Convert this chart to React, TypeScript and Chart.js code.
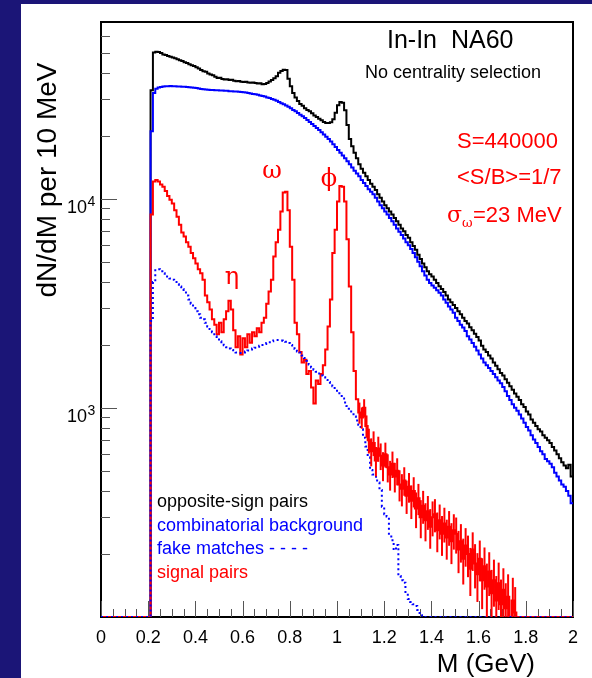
import React, { useEffect, useRef } from "react";
import { Chart, registerables } from "chart.js";

Chart.register(...registerables);

// Histogram binning: 10 MeV bins, stored from the 0.20 GeV low edge up to 2.00 GeV
const BIN_START = 0.2;
const BIN_WIDTH = 0.01;
const M_MIN = 0;
const M_MAX = 2;
const Y_MIN = 100;
const Y_MAX = 70000;

// opposite-sign pairs (counts per 10 MeV), rows of ten bins: 0.20, 0.30, ... 1.90
const oppositeSign = [
  0, 33000, 50000, 50500, 50300, 49800, 49000, 48700, 48200, 47700,
  47400, 47000, 46500, 46000, 45600, 45000, 44600, 44000, 43500, 43100,
  42500, 42000, 41300, 40700, 40500, 39700, 39300, 39000, 38300, 37800,
  37900, 37400, 37200, 37300, 37000, 37100, 36700, 36500, 36600, 36300,
  36200, 36300, 36000, 35900, 36000, 35800, 35600, 35700, 35300, 35400,
  35800, 36400, 37000, 37700, 38500, 40000, 40800, 41400, 41300, 37500,
  34500, 32000, 30500, 29300, 28400, 27800, 27100, 26600, 26200, 25600,
  25000, 24600, 24100, 23700, 23300, 23000, 23000, 23200, 24000, 25800,
  28000, 29000, 28800, 26500, 22500, 19300, 17800, 16600, 15600, 14600,
  13900, 13300, 12800, 12300, 11800, 11400, 11000, 10500, 10100, 9700,
  9300, 9000, 8700, 8400, 8100, 7800, 7500, 7200, 7000, 6700,
  6500, 6200, 5950, 5700, 5400, 5150, 4900, 4700, 4500, 4350,
  4250, 4100, 3950, 3820, 3700, 3580, 3450, 3300, 3200, 3100,
  3000, 2900, 2800, 2700, 2600, 2530, 2430, 2350, 2260, 2180,
  2100, 1980, 1900, 1850, 1780, 1720, 1650, 1590, 1530, 1470,
  1430, 1370, 1320, 1270, 1220, 1170, 1130, 1090, 1040, 1010,
  960, 930, 880, 850, 820, 790, 770, 740, 720, 700,
  680, 650, 625, 600, 575, 550, 530, 515, 535, 470,
];

// combinatorial background
const combBackground = [
  0, 21000, 32000, 33600, 34000, 34200, 34400, 34500, 34500, 34600,
  34500, 34500, 34400, 34400, 34300, 34300, 34200, 34100, 34000, 33900,
  33800, 33700, 33500, 33400, 33300, 33200, 33100, 33100, 33000, 33000,
  32900, 32900, 32800, 32800, 32700, 32700, 32600, 32600, 32500, 32400,
  32300, 32200, 32000, 31900, 31700, 31600, 31400, 31200, 31000, 30800,
  30500, 30300, 30000, 29700, 29400, 29000, 28600, 28300, 27900, 27500,
  27100, 26600, 26200, 25700, 25200, 24800, 24300, 23800, 23300, 22800,
  22300, 21800, 21300, 20800, 20300, 19800, 19300, 18800, 18200, 17700,
  17100, 16600, 16100, 15600, 15100, 14600, 14100, 13600, 13200, 12800,
  12300, 11900, 11500, 11100, 10800, 10500, 10100, 9700, 9300, 9000,
  8700, 8400, 8100, 7800, 7500, 7200, 6950, 6700, 6450, 6200,
  6000, 5750, 5500, 5250, 5000, 4750, 4500, 4300, 4100, 3950,
  3850, 3750, 3650, 3550, 3450, 3300, 3180, 3050, 2950, 2850,
  2700, 2600, 2500, 2420, 2330, 2200, 2120, 2040, 1960, 1880,
  1800, 1720, 1650, 1600, 1550, 1500, 1450, 1400, 1350, 1310,
  1260, 1200, 1140, 1090, 1040, 1000, 970, 930, 890, 850,
  810, 780, 740, 705, 680, 650, 620, 600, 570, 555,
  540, 520, 490, 470, 450, 430, 420, 400, 380, 350,
];

// fake matches
const fakeMatches = [
  0, 2600, 4000, 4550, 4600, 4500, 4400, 4300, 4200, 4150,
  4100, 4000, 3900, 3800, 3700, 3600, 3450, 3300, 3150, 3000,
  2900, 2800, 2700, 2650, 2550, 2450, 2380, 2300, 2200, 2150,
  2080, 2030, 1990, 1950, 1920, 1890, 1860, 1840, 1830, 1830,
  1840, 1860, 1880, 1900, 1920, 1940, 1960, 1980, 2000, 2020,
  2040, 2060, 2080, 2100, 2110, 2110, 2100, 2090, 2070, 2040,
  2000, 1960, 1910, 1860, 1840, 1780, 1730, 1680, 1610, 1560,
  1520, 1490, 1460, 1430, 1400, 1360, 1330, 1300, 1270, 1230,
  1190, 1160, 1110, 1060, 1020, 990, 950, 910, 870, 830,
  790, 720, 653, 580, 505, 480, 469, 440, 405, 337,
  310, 302, 250, 233, 209, 221, 157, 150, 146, 130,
  122, 118, 115, 113, 108, 102, 0, 0, 0, 0,
  0, 0, 0, 0, 0, 0, 0, 0, 0, 0,
  0, 0, 0, 0, 0, 0, 0, 0, 0, 0,
  0, 0, 0, 0, 0, 0, 0, 0, 0, 0,
  0, 0, 0, 0, 0, 0, 0, 0, 0, 0,
  0, 0, 0, 0, 0, 0, 0, 0, 0, 0,
  0, 0, 0, 0, 0, 0, 0, 0, 0, 0,
];

// signal pairs
const signalPairs = [
  0, 8400, 12100, 12300, 12100, 11700, 11400, 10900, 10300, 9900,
  9500, 8800, 8200, 7500, 6900, 6600, 6200, 5900, 5500, 5200,
  4900, 4600, 4400, 4100, 3450, 3200, 2950, 2650, 2500, 2250,
  2550, 2300, 2650, 2900, 3250, 2950, 2350, 1950, 2200, 1800,
  2150, 1950, 2250, 2050, 2300, 2200, 2400, 2300, 2550, 2700,
  3150, 3600, 4100, 5300, 6200, 7100, 8700, 10700, 10800, 8800,
  5900, 4100, 2550, 2250, 1850, 1650, 1700, 1450, 1500, 1250,
  1050, 1350, 1300, 1450, 1600, 1900, 2450, 3300, 5500, 7100,
  9700, 11500, 11400, 9700, 6400, 3800, 2300, 1500, 1100, 950,
  900, 1000, 820, 700, 620, 680, 560, 640, 590, 530,
  600, 520, 480, 540, 470, 500, 430, 410, 450, 380,
  420, 360, 400, 330, 370, 300, 340, 290, 320, 270,
  300, 310, 260, 290, 250, 280, 240, 270, 230, 260,
  250, 210, 230, 190, 220, 200, 170, 210, 180, 160,
  190, 150, 175, 140, 165, 130, 150, 120, 145, 115,
  135, 110, 125, 0, 120, 105, 0, 0, 0, 0,
  0, 0, 0, 0, 0, 0, 0, 0, 0, 0,
  0, 0, 0, 0, 0, 0, 0, 0, 0, 0,
];

// statistical errors on the signal, bins from 1.09 GeV to 1.75 GeV
const signalErrStart = 1.09;
const signalErr = [
  110, 105, 100, 100, 95, 95, 92, 90, 88, 86, 84,
  82, 80, 78, 78, 76, 74, 73, 72, 70, 69,
  68, 66, 66, 64, 63, 62, 61, 60, 59, 58,
  57, 56, 56, 55, 54, 53, 52, 51, 51, 50,
  49, 48, 48, 47, 46, 45, 44, 44, 43, 42,
  42, 41, 40, 40, 39, 38, 38, 37, 37, 36,
  36, 35, 35, 0, 34, 34,
];

const xTickValues = [0, 0.2, 0.4, 0.6, 0.8, 1, 1.2, 1.4, 1.6, 1.8, 2];
const xTickLabels = ["0", "0.2", "0.4", "0.6", "0.8", "1", "1.2", "1.4", "1.6", "1.8", "2"];
const yDecades = [1000, 10000];
const yExponents = ["3", "4"];

const legendLabels = ["opposite-sign pairs", "combinatorial background", "fake matches - - - -", "signal pairs"];
const legendColors = ["#000000", "#0000ff", "#0000ff", "#ff0000"];

const NAVY = "#1b1577";
const SANS = "'Liberation Sans', Arial, Helvetica, sans-serif";
const SERIF = "'DejaVu Serif', 'Liberation Serif', 'Times New Roman', serif";

function binEdge(i: number) {
  return Math.round((BIN_START + i * BIN_WIDTH) * 1000) / 1000;
}

// Step-histogram points: each point sits on a bin's low edge; bins under the
// axis minimum (empty bins) are drawn on the bottom of the frame.
function histogram(values: number[]) {
  const pts: { x: number; y: number }[] = [{ x: M_MIN, y: Y_MIN }];
  values.forEach((v, i) => pts.push({ x: binEdge(i), y: Math.max(v, Y_MIN) }));
  pts.push({ x: M_MAX, y: Math.max(values[values.length - 1], Y_MIN) });
  return pts;
}

const framePlugin = {
  id: "frameAndTicks",
  beforeDatasetsDraw(chart: any) {
    const { ctx, chartArea: a, scales } = chart;
    const xs = scales.x;
    const ys = scales.y;
    ctx.save();
    ctx.strokeStyle = "#000";
    ctx.lineWidth = 2;
    ctx.strokeRect(a.left, a.top, a.right - a.left, a.bottom - a.top);

    ctx.strokeStyle = "#555";
    ctx.lineWidth = 1;
    for (let k = 0; k <= 40; k++) {
      const x = Math.round(xs.getPixelForValue(k * 0.05)) + 0.5;
      const len = k % 4 === 0 ? 16 : 8;
      ctx.beginPath();
      ctx.moveTo(x, a.bottom);
      ctx.lineTo(x, a.bottom - len);
      ctx.stroke();
    }
    for (const dec of [100, 1000, 10000]) {
      for (let j = 1; j <= 9; j++) {
        const v = dec * j;
        if (v <= Y_MIN || v >= Y_MAX) continue;
        const y = Math.round(ys.getPixelForValue(v)) + 0.5;
        const len = j === 1 ? 16 : 9;
        ctx.beginPath();
        ctx.moveTo(a.left, y);
        ctx.lineTo(a.left + len, y);
        ctx.stroke();
      }
    }
    ctx.restore();
  },
  afterDatasetsDraw(chart: any) {
    // vertical error bars on the high-mass signal bins
    const { ctx, chartArea: a, scales } = chart;
    const xs = scales.x;
    const ys = scales.y;
    ctx.save();
    ctx.beginPath();
    ctx.rect(a.left, a.top, a.right - a.left, a.bottom - a.top);
    ctx.clip();
    ctx.strokeStyle = "#ff0000";
    ctx.lineWidth = 2;
    signalErr.forEach((e, i) => {
      const lo = Math.round((signalErrStart + i * BIN_WIDTH) * 1000) / 1000;
      const idx = Math.round((lo - BIN_START) / BIN_WIDTH);
      const v = signalPairs[idx];
      if (!v || !e) return;
      const x = xs.getPixelForValue(lo + BIN_WIDTH / 2);
      const y1 = ys.getPixelForValue(Math.max(v - e, Y_MIN));
      const y2 = ys.getPixelForValue(v + e);
      ctx.beginPath();
      ctx.moveTo(x, y1);
      ctx.lineTo(x, y2);
      ctx.stroke();
    });
    ctx.restore();
  },
  afterDraw(chart: any) {
    const { ctx, chartArea: a, scales } = chart;
    const xs = scales.x;
    const ys = scales.y;
    ctx.save();
    ctx.fillStyle = "#000";
    ctx.textBaseline = "alphabetic";

    // x tick labels
    ctx.font = `18px ${SANS}`;
    ctx.textAlign = "center";
    xTickValues.forEach((m, i) => {
      ctx.fillText(xTickLabels[i], xs.getPixelForValue(m), a.bottom + 26);
    });

    // y decade labels 10^n
    yDecades.forEach((v, i) => {
      const y = ys.getPixelForValue(v);
      ctx.font = `18px ${SANS}`;
      ctx.textAlign = "right";
      ctx.fillText("10", 87, y + 14);
      ctx.font = `14px ${SANS}`;
      ctx.textAlign = "left";
      ctx.fillText(yExponents[i], 87.5, y + 7);
    });

    // axis titles
    ctx.font = `26px ${SANS}`;
    ctx.textAlign = "right";
    ctx.fillText("M (GeV)", 535, 672);

    ctx.save();
    ctx.translate(56, 180);
    ctx.rotate(-Math.PI / 2);
    ctx.font = `28px ${SANS}`;
    ctx.textAlign = "center";
    ctx.fillText("dN/dM per 10 MeV", 0, 0);
    ctx.restore();

    // header
    ctx.textAlign = "left";
    ctx.font = `25px ${SANS}`;
    ctx.fillText("In-In  NA60", 387, 48);
    ctx.font = `18px ${SANS}`;
    ctx.fillText("No centrality selection", 365, 78);

    // statistics
    ctx.fillStyle = "#ff0000";
    ctx.font = `22px ${SANS}`;
    ctx.fillText("S=440000", 457, 148);
    ctx.fillText("<S/B>=1/7", 457, 184);
    ctx.font = `22px ${SERIF}`;
    ctx.fillText("σ", 447, 222);
    ctx.font = `13px ${SERIF}`;
    ctx.fillText("ω", 462, 227);
    ctx.font = `22px ${SANS}`;
    ctx.fillText("=23 MeV", 473, 222);

    // resonance labels
    ctx.font = `24px ${SERIF}`;
    ctx.textAlign = "center";
    ctx.fillText("ω", 272, 178);
    ctx.fillText("ϕ", 329, 186);
    ctx.fillText("η", 232, 284);

    // legend
    ctx.textAlign = "left";
    ctx.font = `18px ${SANS}`;
    legendLabels.forEach((t, i) => {
      ctx.fillStyle = legendColors[i];
      ctx.fillText(t, 157, 507 + i * 23.7);
    });
    ctx.restore();
  },
};

export default function App() {
  const ref = useRef<HTMLCanvasElement>(null);

  useEffect(() => {
    const canvas = ref.current;
    if (!canvas) return;
    const common = {
      pointRadius: 0,
      borderWidth: 2,
      stepped: true,
      fill: false,
      tension: 0,
      borderCapStyle: "butt",
      borderJoinStyle: "miter",
    };
    const chart = new Chart(canvas, {
      type: "line",
      data: {
        datasets: [
          { ...common, label: "fake matches", data: histogram(fakeMatches), borderColor: "#0000ff", borderDash: [2, 3], order: 1 },
          { ...common, label: "signal pairs", data: histogram(signalPairs), borderColor: "#ff0000", order: 2 },
          { ...common, label: "combinatorial background", data: histogram(combBackground), borderColor: "#0000ff", order: 3 },
          { ...common, label: "opposite-sign pairs", data: histogram(oppositeSign), borderColor: "#000000", order: 4 },
        ] as any,
      },
      options: {
        responsive: false,
        animation: false,
        devicePixelRatio: 1,
        events: [],
        layout: { padding: { left: 101, top: 22, right: 19, bottom: 61 } },
        plugins: { legend: { display: false }, tooltip: { enabled: false } },
        scales: {
          x: { type: "linear", min: M_MIN, max: M_MAX, display: false },
          y: { type: "logarithmic", min: Y_MIN, max: Y_MAX, display: false },
        },
      } as any,
      plugins: [framePlugin],
    });
    return () => chart.destroy();
  }, []);

  return (
    <div style={{ position: "fixed", left: 0, top: 0, width: 592, height: 678, background: NAVY, overflow: "hidden" }}>
      <div style={{ position: "absolute", left: 21, top: 4, width: 571, height: 674, background: "#ffffff" }} />
      <canvas
        ref={ref}
        width={592}
        height={678}
        style={{ position: "absolute", left: 0, top: 0, width: 592, height: 678 }}
      />
    </div>
  );
}
